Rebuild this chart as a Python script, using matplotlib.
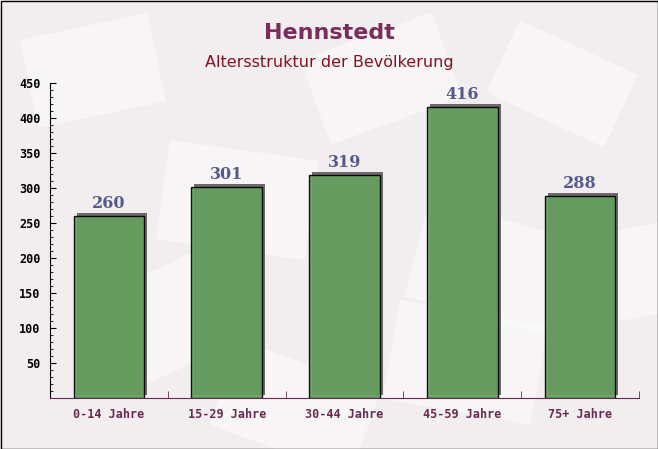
import numpy as np
import matplotlib
matplotlib.use("Agg")
import matplotlib.pyplot as plt
from matplotlib.transforms import ScaledTranslation
from matplotlib.patches import Rectangle

categories = ["0-14 Jahre", "15-29 Jahre", "30-44 Jahre", "45-59 Jahre", "75+ Jahre"]
values = [260, 301, 319, 416, 288]
title = "Hennstedt"
subtitle = "Altersstruktur der Bevölkerung"

fig = plt.figure(figsize=(6.58, 4.49), dpi=100)
fig.patch.set_facecolor("#f2eef0")

# faint envelope-like background shapes
bg = fig.add_axes([0, 0, 1, 1])
bg.set_xlim(0, 658)
bg.set_ylim(449, 0)
bg.axis("off")
shapes = [(20, 40, 130, 90, -12), (170, 140, 150, 100, 8), (300, 60, 140, 90, -20),
          (430, 200, 150, 100, 15), (520, 20, 130, 80, 25), (90, 300, 140, 100, -25),
          (400, 300, 150, 100, 10), (560, 240, 110, 90, -10), (240, 340, 150, 90, 20)]
for x0, y0, w, h, ang in shapes:
    bg.add_patch(Rectangle((x0, y0), w, h, angle=ang, facecolor="white", alpha=0.45,
                           edgecolor="none"))
bg.add_patch(Rectangle((0.5, 0.5), 657, 448, facecolor="none", edgecolor="black", lw=1))

ax = fig.add_axes([50 / 658, 1 - 398 / 449, 589 / 658, 315 / 449])
ax.set_facecolor("none")

x = np.arange(len(categories))
shadow = ax.transData + ScaledTranslation(3 / 100, 3 / 100, fig.dpi_scale_trans)
ax.bar(x, values, width=0.6, color="#6e6a6c", transform=shadow, zorder=2)
ax.bar(x, values, width=0.6, color="#66a05e", alpha=0.92, edgecolor="black", lw=1, zorder=3)

for xi, v in zip(x, values):
    ax.annotate(str(v), (xi, v), xytext=(0, 3), textcoords="offset points",
                ha="center", va="bottom", fontsize=11.5, fontweight="bold",
                family="DejaVu Serif", color="#555a8c", zorder=4)

ax.set_xlim(-0.5, 4.5)
ax.set_ylim(0, 450)
ax.set_yticks(np.arange(50, 451, 50))
ax.set_yticks(np.arange(0, 451, 10), minor=True)
ax.set_xticks(x)
ax.set_xticklabels(categories)
ax.set_xticks(np.arange(0.5, 5, 1), minor=True)
ax.tick_params(axis="x", which="major", length=0, pad=7, labelsize=8.5, labelcolor="#6a2a50")
ax.tick_params(axis="x", which="minor", length=5, direction="in", color="#6a2a50")
ax.tick_params(axis="y", which="major", length=4, direction="in", pad=7,
               labelsize=8.5, labelcolor="black")
ax.tick_params(axis="y", which="minor", length=2.5, direction="in")
for lab in ax.get_xticklabels() + ax.get_yticklabels():
    lab.set_family("DejaVu Sans Mono")
    lab.set_fontweight("bold")

ax.spines["top"].set_visible(False)
ax.spines["right"].set_visible(False)
ax.spines["bottom"].set_color("#6a2a50")
ax.spines["left"].set_color("black")

fig.text(0.5, 1 - 33 / 449, title, ha="center", va="center", fontsize=16,
         fontweight="bold", color="#7a2d5a")
fig.text(0.5, 1 - 62 / 449, subtitle, ha="center", va="center", fontsize=11.5,
         color="#8b1020")

fig.savefig("out.png", dpi=100, facecolor=fig.get_facecolor())
